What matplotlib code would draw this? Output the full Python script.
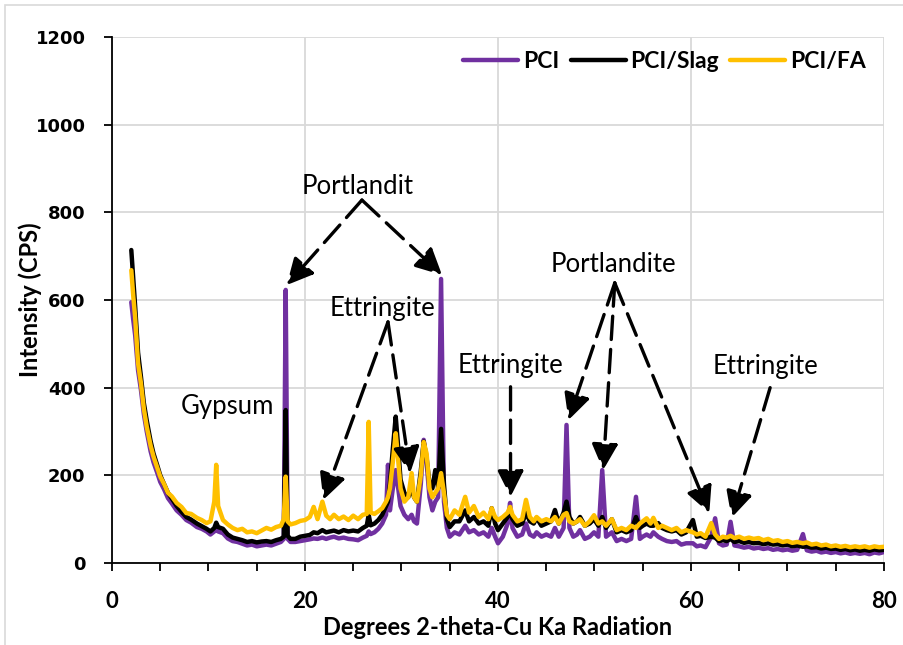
import matplotlib
matplotlib.use("Agg")
import matplotlib.pyplot as plt
from matplotlib.patches import Rectangle
from matplotlib.ticker import MultipleLocator

# ---------------- data ----------------
two_theta = [
    2.0, 2.2, 2.4, 2.7, 3.0, 3.3, 3.6, 4.0, 4.3, 4.7, 5.0, 5.4, 5.8, 6.2, 6.7, 7.2, 7.7, 8.2, 8.8, 9.3, 9.8,
    10.2, 10.6, 10.8, 11.0, 11.5, 12.0, 12.5, 13.0, 13.5, 14.0, 14.5, 15.0, 15.5, 16.0, 16.5, 17.0, 17.5, 17.8, 18.0, 18.2, 18.5, 19.0, 19.5, 20.0,
    20.5, 20.9, 21.3, 21.8, 22.2, 22.6, 23.0, 23.5, 24.0, 24.5, 25.0, 25.5, 26.0, 26.4, 26.6, 26.8, 27.2, 27.6,
    28.0, 28.4, 28.6, 28.8, 29.1, 29.4, 29.6, 29.9, 30.3, 30.7, 31.05, 31.3, 31.6, 32.0, 32.3, 32.6, 32.9, 33.2, 33.5, 33.8, 34.1, 34.4, 34.7, 35.0,
    35.5, 36.0, 36.6, 37.0, 37.5, 38.0, 38.5, 39.0, 39.35, 39.7, 40.0, 40.5, 41.0, 41.25, 41.5, 42.0, 42.5, 42.9, 43.3, 43.7, 44.0, 44.5, 45.0,
    45.5, 45.9, 46.3, 46.8, 47.1, 47.4, 47.8, 48.2, 48.5, 49.0, 49.5, 49.95, 50.4, 50.8, 51.2, 51.8, 52.3, 52.8, 53.3, 53.8, 54.3, 54.7, 55.0, 55.4, 55.8, 56.1, 56.6, 57.0,
    57.5, 58.0, 58.5, 59.0, 59.5, 60.2, 60.6, 61.0, 61.5, 62.1, 62.5, 62.9, 63.3, 63.7, 64.1, 64.5, 65.0, 65.5, 66.0, 66.5, 67.0, 67.5, 68.0, 68.5,
    69.0, 69.5, 70.0, 70.5, 71.0, 71.6, 72.0, 72.5, 73.0, 73.5, 74.0, 74.5, 75.0, 75.5, 76.0, 76.5, 77.0, 77.5, 78.0, 78.5, 79.0, 79.5, 80.0,
]

pci = [
    595, 555, 520, 440, 395, 340, 300, 255, 230, 205, 185, 168, 148, 136, 120, 110, 98, 92, 82, 78, 72,
    65, 72, 80, 72, 68, 56, 50, 48, 44, 40, 42, 38, 40, 42, 40, 44, 48, 55, 623, 55, 48, 48, 50, 52,
    54, 56, 55, 58, 55, 58, 60, 56, 58, 55, 54, 52, 58, 62, 72, 66, 70, 78,
    90, 110, 224, 120, 170, 212, 180, 130, 110, 100, 110, 95, 90, 180, 281, 230, 150, 120, 140, 150, 648, 140, 80, 60,
    70, 65, 85, 70, 75, 65, 70, 60, 80, 60, 45, 60, 90, 137, 80, 60, 65, 90, 65, 60, 70, 60, 65,
    60, 80, 60, 80, 315, 80, 60, 65, 75, 55, 60, 70, 60, 212, 60, 70, 50, 55, 50, 55, 151, 55, 60, 65, 60, 70, 60, 55,
    50, 48, 50, 42, 45, 45, 38, 40, 36, 60, 102, 45, 40, 42, 94, 40, 38, 35, 37, 33, 35, 32, 34, 30,
    32, 29, 31, 28, 30, 66, 29, 26, 28, 24, 26, 23, 25, 22, 24, 21, 23, 21, 23, 20, 24, 22, 25,
]

pci_slag = [
    714, 650, 585, 480, 425, 365, 325, 278, 250, 222, 200, 180, 160, 147, 130, 117, 105, 99, 90, 84, 78,
    72, 80, 92, 82, 78, 65, 58, 55, 52, 48, 50, 47, 49, 50, 48, 52, 55, 60, 349, 62, 55, 55, 60, 62,
    64, 70, 68, 75, 70, 72, 74, 70, 75, 72, 74, 72, 80, 85, 110, 86, 90, 98,
    110, 130, 140, 180, 260, 334, 280, 190, 160, 150, 170, 150, 140, 210, 277, 240, 180, 170, 212, 170, 306, 180, 100, 82,
    95, 95, 120, 95, 105, 90, 95, 85, 125, 90, 75, 90, 105, 121, 100, 85, 90, 115, 95, 90, 103, 85, 90,
    95, 121, 90, 115, 140, 105, 90, 95, 105, 85, 90, 100, 85, 105, 80, 100, 70, 75, 70, 75, 105, 80, 85, 90, 85, 85, 91, 80,
    75, 72, 75, 65, 70, 98, 60, 62, 57, 60, 58, 50, 52, 50, 55, 48, 50, 46, 48, 45, 46, 43, 45, 42,
    43, 40, 42, 38, 40, 37, 38, 35, 36, 33, 35, 32, 33, 30, 32, 29, 31, 28, 30, 28, 31, 29, 30,
]

pci_fa = [
    668, 610, 560, 456, 410, 352, 311, 268, 243, 217, 197, 180, 160, 152, 137, 128, 114, 112, 103, 98, 91,
    95, 140, 224, 130, 98, 88, 80, 75, 78, 70, 72, 68, 74, 80, 76, 82, 85, 100, 197, 95, 88, 91, 96, 98,
    105, 128, 100, 140, 108, 100, 110, 100, 106, 98, 108, 100, 110, 112, 322, 115, 112, 118,
    125, 140, 150, 170, 230, 296, 250, 170, 140, 150, 205, 150, 140, 200, 276, 250, 170, 150, 160, 170, 205, 160, 110, 100,
    120, 110, 151, 115, 130, 105, 115, 100, 125, 105, 98, 105, 115, 128, 110, 95, 100, 144, 105, 95, 105, 95, 100,
    95, 105, 90, 110, 114, 95, 90, 95, 100, 85, 95, 109, 90, 95, 85, 100, 75, 80, 75, 85, 80, 90, 95, 102, 90, 103, 80, 85,
    80, 75, 80, 70, 75, 70, 65, 68, 60, 91, 65, 55, 60, 58, 62, 57, 60, 55, 58, 55, 57, 52, 55, 50,
    52, 48, 50, 46, 48, 45, 47, 42, 44, 40, 42, 38, 40, 37, 39, 36, 38, 36, 38, 35, 38, 36, 37,
]

series_names = ["PCI", "PCI/Slag", "PCI/FA"]
series_colors = ["#7030A0", "#000000", "#FFC000"]

x_ticks = [0, 20, 40, 60, 80]
y_ticks = [0, 200, 400, 600, 800, 1000, 1200]

# annotations: (label, text position, arrow origin, arrow targets)
annotations = [
    ("Portlandit", (25.5, 860), (25.9, 828), [(18.1, 634), (34.2, 657)]),
    ("Ettringite", (28.0, 580), (28.6, 550), [(21.9, 144), (30.9, 205)]),
    ("Gypsum", (12.0, 358), None, []),
    ("Ettringite", (41.3, 450), (41.3, 402), [(41.3, 151)]),
    ("Portlandite", (52.0, 682), (52.1, 639), [(47.3, 326), (50.9, 212), (61.9, 114)]),
    ("Ettringite", (67.7, 448), (68.2, 400), [(64.2, 103)]),
]

assert len(two_theta) == len(pci) == len(pci_slag) == len(pci_fa)

# ---------------- figure ----------------
fig = plt.figure(figsize=(9.04, 6.45), dpi=100)
ax = fig.add_axes([112 / 904, 1 - 563 / 645, (884 - 112) / 904, (563 - 37) / 645])

# chart-area border
fig.patches.append(Rectangle((5 / 904, -0.1), 1.2, 1.1 - 5 / 645,
                             transform=fig.transFigure, fill=False,
                             edgecolor="#d9d9d9", lw=1.2))

for name, yv, col in zip(series_names, [pci, pci_slag, pci_fa], series_colors):
    ax.plot(two_theta, yv, color=col, lw=3.2, label=name, solid_joinstyle="round",
            solid_capstyle="round")

ax.set_xlim(0, 80)
ax.set_ylim(0, 1200)
ax.set_xticks(x_ticks)
ax.set_yticks(y_ticks)
ax.xaxis.set_minor_locator(MultipleLocator(5))
ax.grid(True, which="major", color="#d9d9d9", lw=1.3)
ax.set_axisbelow(True)
for s in ["top", "right"]:
    ax.spines[s].set_visible(False)
for s in ["left", "bottom"]:
    ax.spines[s].set_color("black")
    ax.spines[s].set_linewidth(1.3)

ax.tick_params(axis="x", which="both", direction="out", length=6, width=1.3, pad=14)
ax.tick_params(axis="y", which="major", direction="out", length=6, width=1.3, pad=13)
for lab in ax.get_yticklabels():
    lab.set_fontfamily("DejaVu Sans")
    lab.set_fontweight("bold")
    lab.set_fontsize(13)
for lab in ax.get_xticklabels():
    lab.set_fontfamily("Lato")
    lab.set_fontweight("bold")
    lab.set_fontsize(16)

ax.set_xlabel("Degrees 2-theta-Cu Ka Radiation", fontfamily="Lato", fontweight="bold",
              fontsize=17, labelpad=3)
ax.set_ylabel("Intensity (CPS)", fontfamily="Lato", fontweight="bold", fontsize=17)
ax.yaxis.set_label_coords(-0.0907, 0.5)

for label, tpos, origin, targets in annotations:
    ax.text(tpos[0], tpos[1], label, fontfamily="Lato", fontsize=18.5, ha="center", va="center")
    for tgt in targets:
        ax.annotate("", xy=tgt, xytext=origin,
                    arrowprops=dict(arrowstyle="-|>,head_length=0.8,head_width=0.4",
                                    color="black", lw=2.4, linestyle=(0, (7, 3)),
                                    shrinkA=0, shrinkB=0, mutation_scale=20))

leg = ax.legend(loc="upper right", bbox_to_anchor=(1.003, 1.012), ncol=3, frameon=False,
                prop={"family": "Lato", "weight": "bold", "size": 16.5},
                handlelength=2.4, handletextpad=0.2, columnspacing=0.5)

fig.savefig("out.png", dpi=100)
